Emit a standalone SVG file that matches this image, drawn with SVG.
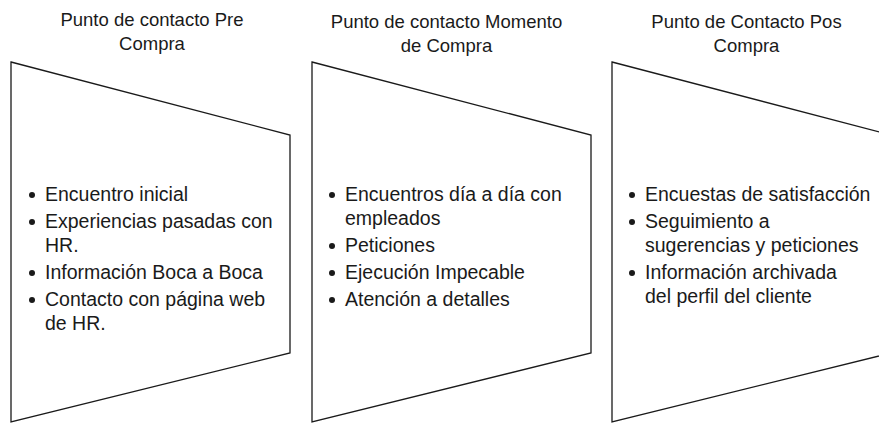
<svg xmlns="http://www.w3.org/2000/svg" width="879" height="423" viewBox="0 0 879 423">
<style>
.shape{fill:#fff;stroke:#1a1a1a;stroke-width:1.3}
.title{font-family:"Liberation Sans",Arial,sans-serif;font-size:18.5px;fill:#1a1a1a;text-anchor:middle}
.item{font-family:"Liberation Sans",Arial,sans-serif;font-size:19.5px;fill:#1a1a1a}
.dot{fill:#1a1a1a}
</style>
<rect width="879" height="423" fill="#fff"/>
<g id="pre">
<polygon class="shape" points="11,62 290,135 290,353 11,422"/>
<text class="title" x="152" y="26">Punto de contacto Pre</text>
<text class="title" x="152" y="50">Compra</text>
<circle class="dot" cx="32" cy="195" r="3"/>
<circle class="dot" cx="32" cy="222" r="3"/>
<circle class="dot" cx="32" cy="273" r="3"/>
<circle class="dot" cx="32" cy="300" r="3"/>
<text class="item" x="45" y="201">Encuentro inicial</text>
<text class="item" x="45" y="228">Experiencias pasadas con</text>
<text class="item" x="45" y="252">HR.</text>
<text class="item" x="45" y="279">Información Boca a Boca</text>
<text class="item" x="45" y="306">Contacto con página web</text>
<text class="item" x="45" y="330">de HR.</text>
</g>
<g id="momento">
<polygon class="shape" points="312,62 591,135 591,353 312,422"/>
<text class="title" x="446.5" y="28">Punto de contacto Momento</text>
<text class="title" x="446.5" y="52">de Compra</text>
<circle class="dot" cx="332" cy="195" r="3"/>
<circle class="dot" cx="332" cy="246" r="3"/>
<circle class="dot" cx="332" cy="273" r="3"/>
<circle class="dot" cx="332" cy="300" r="3"/>
<text class="item" x="345" y="201">Encuentros día a día con</text>
<text class="item" x="345" y="225">empleados</text>
<text class="item" x="345" y="252">Peticiones</text>
<text class="item" x="345" y="279">Ejecución Impecable</text>
<text class="item" x="345" y="306">Atención a detalles</text>
</g>
<g id="pos">
<polygon class="shape" points="612,62 891,135 891,353 612,422"/>
<text class="title" x="746.5" y="28">Punto de Contacto Pos</text>
<text class="title" x="746.5" y="52">Compra</text>
<circle class="dot" cx="632" cy="195" r="3"/>
<circle class="dot" cx="632" cy="222" r="3"/>
<circle class="dot" cx="632" cy="273" r="3"/>
<text class="item" x="645" y="201">Encuestas de satisfacción</text>
<text class="item" x="645" y="228">Seguimiento a</text>
<text class="item" x="645" y="252">sugerencias y peticiones</text>
<text class="item" x="645" y="279">Información archivada</text>
<text class="item" x="645" y="303">del perfil del cliente</text>
</g>
<g id="connectors"/>
</svg>
